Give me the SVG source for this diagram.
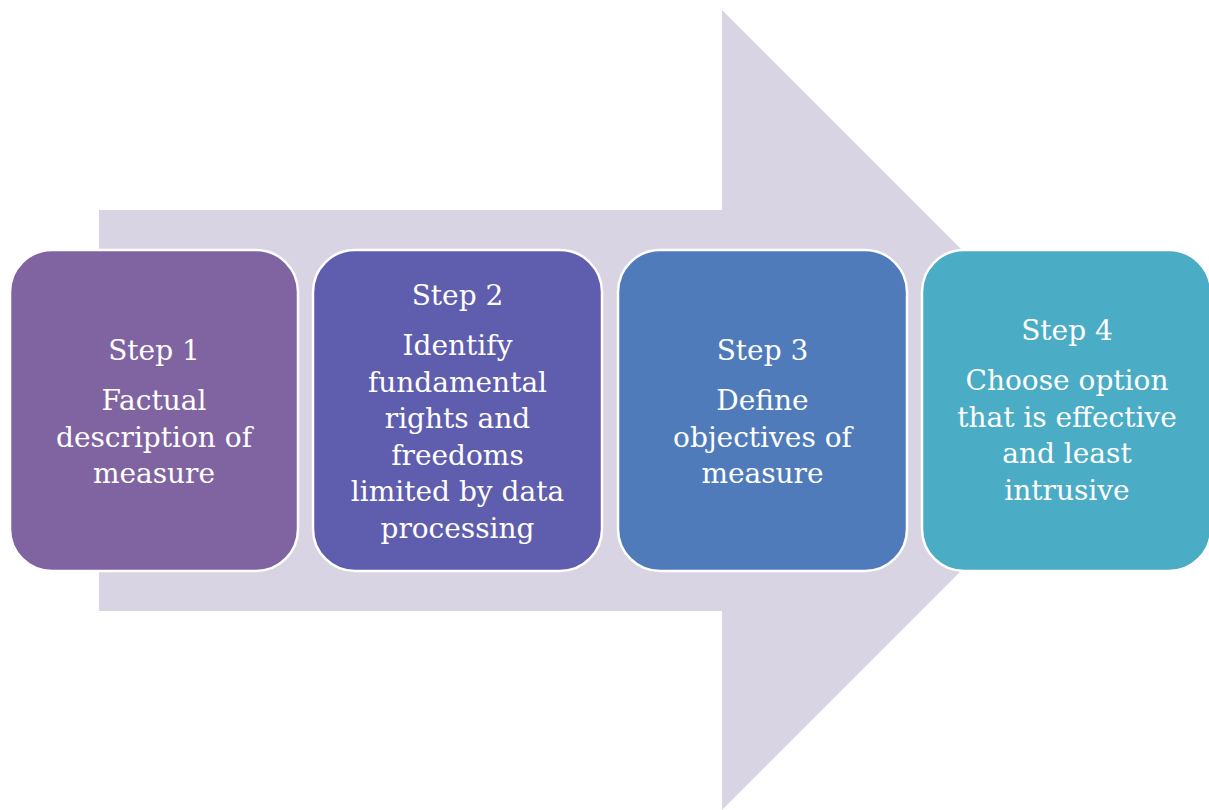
<svg xmlns="http://www.w3.org/2000/svg" width="1209" height="810" viewBox="0 0 1209 810">
<style>
.box{stroke:#ffffff;stroke-width:2.5}
.t{font-family:"DejaVu Serif","Liberation Serif",serif;font-size:28px;fill:#ffffff;text-anchor:middle}
</style>
<rect width="1209" height="810" fill="#ffffff"/>
<g id="connectors">
<path d="M99,210 L722,210 L722,10 L1122,410 L722,810 L722,611 L99,611 Z" fill="#D8D4E3"/>
</g>
<g id="step1">
<rect class="box" x="10" y="250" width="288" height="321" rx="42" fill="#8064A2"/>
<text class="t" x="154" y="360">Step 1</text>
<text class="t" x="154" y="410">Factual</text>
<text class="t" x="154" y="446.5">description of</text>
<text class="t" x="154" y="483">measure</text>
</g>
<g id="step2">
<rect class="box" x="313" y="250" width="289" height="321" rx="42" fill="#5F5DAD"/>
<text class="t" x="457.5" y="305">Step 2</text>
<text class="t" x="457.5" y="355">Identify</text>
<text class="t" x="457.5" y="391.5">fundamental</text>
<text class="t" x="457.5" y="428">rights and</text>
<text class="t" x="457.5" y="464.5">freedoms</text>
<text class="t" x="457.5" y="501">limited by data</text>
<text class="t" x="457.5" y="537.5">processing</text>
</g>
<g id="step3">
<rect class="box" x="618" y="250" width="289" height="321" rx="42" fill="#4F7BBB"/>
<text class="t" x="762.5" y="360">Step 3</text>
<text class="t" x="762.5" y="410">Define</text>
<text class="t" x="762.5" y="446.5">objectives of</text>
<text class="t" x="762.5" y="483">measure</text>
</g>
<g id="step4">
<rect class="box" x="922" y="250" width="289" height="321" rx="42" fill="#4BACC6"/>
<text class="t" x="1067" y="340">Step 4</text>
<text class="t" x="1067" y="390">Choose option</text>
<text class="t" x="1067" y="426.5">that is effective</text>
<text class="t" x="1067" y="463">and least</text>
<text class="t" x="1067" y="500">intrusive</text>
</g>
</svg>
